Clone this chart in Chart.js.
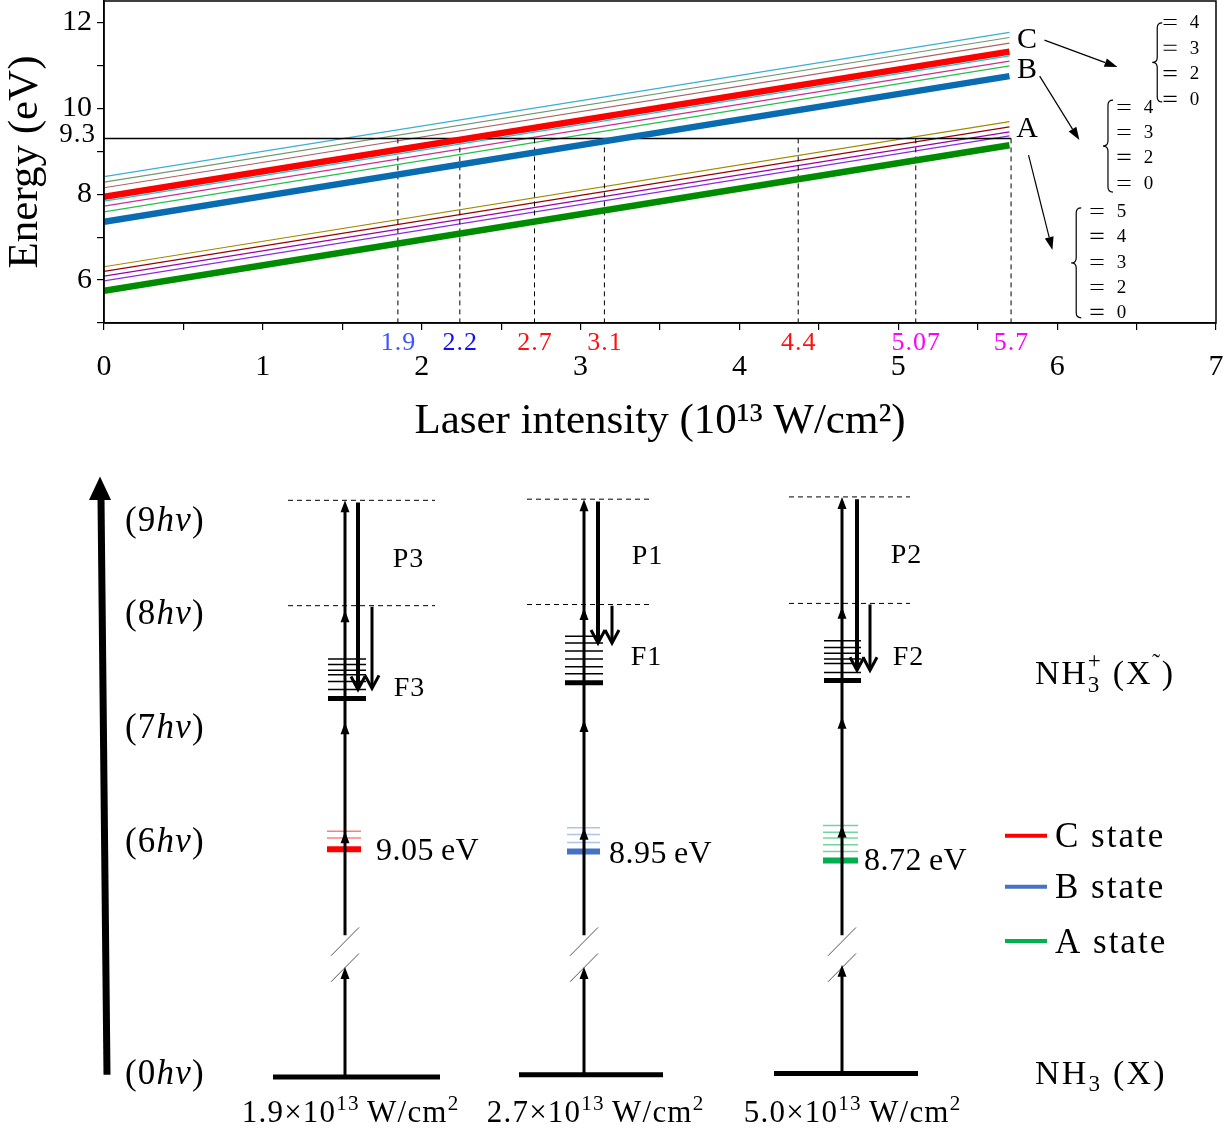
<!DOCTYPE html>
<html><head><meta charset="utf-8">
<script src="https://cdn.jsdelivr.net/npm/chart.js@4.4.1/dist/chart.umd.min.js"></script>
<style>
html,body{margin:0;padding:0;background:#fff;}
#wrapTop{position:absolute;left:0;top:0;width:1225px;height:455px;}
#wrapBot{position:absolute;left:0;top:455px;width:1225px;height:675px;}
</style></head><body>
<div id="wrapTop"><canvas id="top" width="1225" height="455"></canvas></div>
<div id="wrapBot"><canvas id="bot" width="1225" height="675"></canvas></div>
<script>
const FONT = '"Liberation Serif","Times New Roman",serif';

// ================= TOP PANEL DATA =================
const lineIntensity = [0, 5.7];                 // 10^13 W/cm^2, ends of each state line
const vibC = [0, 2, 3, 4];
const energyC_start = [7.94, 8.15, 8.28, 8.41]; // eV at I = 0
const energyC_end   = [11.32, 11.52, 11.65, 11.77]; // eV at I = 5.7
const vibB = [0, 2, 3, 4];
const energyB_start = [7.36, 7.59, 7.72, 7.84];
const energyB_end   = [10.75, 10.99, 11.10, 11.22];
const vibA = [0, 2, 3, 4, 5];
const energyA_start = [5.75, 5.98, 6.09, 6.20, 6.31];
const energyA_end   = [9.14, 9.36, 9.45, 9.57, 9.69];
const thresholdEnergy = 9.3;
const thresholdRange = [0, 5.71];
const crossIntensity = [1.85, 2.24, 2.71, 3.15, 4.37, 5.11, 5.71];
const crossLabels = ['1.9', '2.2', '2.7', '3.1', '4.4', '5.07', '5.7'];
const xTickLabels = [0, 1, 2, 3, 4, 5, 6, 7];
const yTickLabels = [6, 8, 10, 12];
const stateNames = ['C', 'B', 'A'];

// ================= TOP PANEL STYLE =================
const colorsC = ['#ff0000', '#a86464', '#6e9770', '#3aaed6'];
const colorsB = ['#0a6cb0', '#22c04a', '#cc2f8e', '#1fc3d3'];
const colorsA = ['#008c00', '#8a2be2', '#a000a0', '#990000', '#a08a00'];
const crossColors = ['#3a55ff', '#1010f0', '#ff1010', '#ff1010', '#ff1010', '#ff00ff', '#ff00ff'];

function stateDatasets(name, vibs, e0, e1, colors) {
  return vibs.map((v, i) => ({
    label: name + ' v=' + v,
    data: [{x: lineIntensity[0], y: e0[i]}, {x: lineIntensity[1], y: e1[i]}],
    borderColor: colors[i],
    borderWidth: v === 0 ? 6.5 : 1.2,
    order: v === 0 ? 0 : 2,
    pointRadius: 0
  }));
}
const dashData = [];
crossIntensity.forEach(c => { dashData.push({x: c, y: thresholdEnergy}, {x: c, y: 5}, {x: c, y: null}); });

function drawRich(ctx, parts, x, yc, size, align, color, ls) {
  ctx.save();
  ctx.fillStyle = color || '#000';
  ctx.textBaseline = 'alphabetic';
  ctx.textAlign = 'left';
  ctx.letterSpacing = (ls || 0) + 'px';
  const base = yc + size * 0.33;
  const items = parts.map(p => {
    const o = (typeof p === 'string') ? {t: p} : p;
    const s = (o.sup || o.sub || o.ss) ? size * 0.68 : size;
    ctx.font = (o.i ? 'italic ' : '') + s + 'px ' + FONT;
    let w;
    if (o.ss) w = Math.max(ctx.measureText(o.ss[0]).width, ctx.measureText(o.ss[1]).width);
    else w = ctx.measureText(o.t).width;
    return Object.assign({}, o, {s: s, w: w});
  });
  const total = items.reduce((a, b) => a + b.w, 0) - (ls || 0);
  let cx = align === 'center' ? x - total / 2 : (align === 'right' ? x - total : x);
  items.forEach(o => {
    ctx.font = (o.i ? 'italic ' : '') + o.s + 'px ' + FONT;
    if (o.ss) {
      ctx.fillText(o.ss[0], cx, base + size * 0.24);
      ctx.fillText(o.ss[1], cx, base - size * 0.45);
    } else {
      const dy = o.sup ? -size * 0.4 : (o.sub ? size * 0.22 : 0);
      ctx.fillText(o.t, cx, base + dy);
    }
    cx += o.w;
  });
  ctx.restore();
}
function arrowFilled(ctx, x1, y1, x2, y2, head, half, lw) {
  const a = Math.atan2(y2 - y1, x2 - x1);
  const bx = x2 - head * Math.cos(a), by = y2 - head * Math.sin(a);
  ctx.lineWidth = lw;
  ctx.beginPath(); ctx.moveTo(x1, y1); ctx.lineTo(bx, by); ctx.stroke();
  ctx.beginPath(); ctx.moveTo(x2, y2);
  ctx.lineTo(bx + half * Math.sin(a), by - half * Math.cos(a));
  ctx.lineTo(bx - half * Math.sin(a), by + half * Math.cos(a));
  ctx.closePath(); ctx.fill();
}
function brace(ctx, x, y1, y2) {
  const m = (y1 + y2) / 2, w = 5, r = 5;
  ctx.beginPath();
  ctx.moveTo(x + w, y1);
  ctx.quadraticCurveTo(x, y1, x, y1 + r);
  ctx.lineTo(x, m - r);
  ctx.quadraticCurveTo(x, m, x - w, m);
  ctx.quadraticCurveTo(x, m, x, m + r);
  ctx.lineTo(x, y2 - r);
  ctx.quadraticCurveTo(x, y2, x + w, y2);
  ctx.stroke();
}

// annotation layout (data units of the top panel)
const TOP_NOTE = {
  stateLabelX: 5.81, stateLabelY: [11.64, 10.94, 9.57],
  arrows: [[5.92, 11.59, 6.38, 10.96], [5.89, 10.75, 6.14, 9.26], [5.82, 8.91, 5.97, 6.70]],
  braces: [[6.63, 11.99, 10.15], [6.32, 10.19, 8.05], [6.12, 7.68, 5.12]],
  eqX: [6.67, 6.38, 6.21],
  eqY: [[12.01, 11.41, 10.82, 10.22], [10.03, 9.45, 8.87, 8.26], [7.61, 7.03, 6.42, 5.84, 5.26]],
  digitDX: 0.165
};

const topPlugin = {
  id: 'topNotes',
  afterDraw(chart) {
    const {ctx, chartArea: ca, scales: {x, y}} = chart;
    ctx.save();
    ctx.strokeStyle = '#000'; ctx.lineWidth = 1.5;
    ctx.strokeRect(ca.left, ca.top, ca.right - ca.left, ca.bottom - ca.top);
    drawRich(ctx, [String(thresholdEnergy)], ca.left - 9, y.getPixelForValue(thresholdEnergy) - 5, 27, 'right', '#000', 1);
    crossIntensity.forEach((c, i) => drawRich(ctx, [crossLabels[i]], x.getPixelForValue(c), ca.bottom + 18, 26, 'center', crossColors[i], 1));
    stateNames.forEach((n, i) => drawRich(ctx, [n], x.getPixelForValue(TOP_NOTE.stateLabelX), y.getPixelForValue(TOP_NOTE.stateLabelY[i]), 30, 'center'));
    ctx.fillStyle = '#000'; ctx.strokeStyle = '#000';
    TOP_NOTE.arrows.forEach(a => arrowFilled(ctx, x.getPixelForValue(a[0]), y.getPixelForValue(a[1]), x.getPixelForValue(a[2]), y.getPixelForValue(a[3]), 13, 4.5, 1.2));
    ctx.lineWidth = 1.2;
    TOP_NOTE.braces.forEach(b => brace(ctx, x.getPixelForValue(b[0]), y.getPixelForValue(b[1]), y.getPixelForValue(b[2])));
    const vibLists = [vibC.slice().reverse(), vibB.slice().reverse(), vibA.slice().reverse()];
    vibLists.forEach((vl, k) => {
      vl.forEach((v, j) => {
        const py = y.getPixelForValue(TOP_NOTE.eqY[k][j]);
        ctx.save(); ctx.strokeStyle = '#000'; ctx.lineWidth = 1.1;
        const ex = x.getPixelForValue(TOP_NOTE.eqX[k]);
        ctx.beginPath(); ctx.moveTo(ex, py - 2.5); ctx.lineTo(ex + 13, py - 2.5); ctx.moveTo(ex, py + 2.5); ctx.lineTo(ex + 13, py + 2.5); ctx.stroke();
        ctx.restore();
        drawRich(ctx, [String(v)], x.getPixelForValue(TOP_NOTE.eqX[k] + TOP_NOTE.digitDX), py, 19, 'left');
      });
    });
    ctx.restore();
  }
};

new Chart(document.getElementById('top'), {
  type: 'line',
  data: {
    datasets: [
      ...stateDatasets('C', vibC, energyC_start, energyC_end, colorsC),
      ...stateDatasets('B', vibB, energyB_start, energyB_end, colorsB),
      ...stateDatasets('A', vibA, energyA_start, energyA_end, colorsA),
      { label: 'threshold', data: [{x: thresholdRange[0], y: thresholdEnergy}, {x: thresholdRange[1], y: thresholdEnergy}],
        borderColor: '#000', borderWidth: 1.5, order: 1, pointRadius: 0 },
      { label: 'crossings', data: dashData, borderColor: '#000', borderWidth: 1, borderDash: [5, 4], order: 1, pointRadius: 0, spanGaps: false }
    ]
  },
  options: {
    responsive: false, animation: false,
    layout: { padding: { top: 1, right: 9, left: 0, bottom: 0 } },
    plugins: { legend: { display: false }, tooltip: { enabled: false } },
    elements: { point: { radius: 0 }, line: { tension: 0, borderCapStyle: 'butt' } },
    scales: {
      x: {
        type: 'linear', min: 0, max: 7,
        ticks: { stepSize: 0.5, autoSkip: false, maxRotation: 0, padding: 19, color: '#000',
                 font: { family: FONT, size: 30 },
                 callback: v => xTickLabels.includes(v) ? String(v) : '' },
        grid: { drawOnChartArea: false, drawTicks: true, tickLength: 7, color: '#000', lineWidth: 1.2 },
        border: { display: true, color: '#000', width: 1.5 },
        title: { display: true, text: 'Laser intensity (10¹³ W/cm²)', color: '#000',
                 font: { family: FONT, size: 43 }, padding: { top: 0, bottom: 7 } },
        afterFit: s => { s.height = 132; s.paddingLeft = 0; s.paddingRight = 0; }
      },
      y: {
        type: 'linear', min: 5, max: 12.5,
        ticks: { stepSize: 1, includeBounds: false, padding: 5, color: '#000',
                 font: { family: FONT, size: 30 },
                 callback: v => yTickLabels.includes(v) ? String(v) : '' },
        grid: { drawOnChartArea: false, drawTicks: true, tickLength: 7, color: '#000', lineWidth: 1.2 },
        border: { display: true, color: '#000', width: 1.5 },
        title: { display: true, text: 'Energy (eV)', color: '#000',
                 font: { family: FONT, size: 43 }, padding: { top: 0, bottom: 0 } },
        afterFit: s => { s.width = 104; s.paddingTop = 0; s.paddingBottom = 0; }
      }
    }
  },
  plugins: [topPlugin]
});

// ================= BOTTOM PANEL DATA (levels in photon units, axis broken below 6hν) =================
const photonOrders = [9, 8, 7, 6, 0];
const intensityLabels = ['1.9', '2.7', '5.0'];          // ×10^13 W/cm^2
const resonantEnergies = ['9.05', '8.95', '8.72'];      // eV
const resonantStates = ['C', 'B', 'A'];
const pLabels = ['P3', 'P1', 'P2'];
const fLabels = ['F3', 'F1', 'F2'];
const groundLevel = [3.91, 3.93, 3.94];
const resonantThick = [5.92, 5.90, 5.82];
const resonantThin = [[6.08, 6.02], [6.11, 6.05, 5.98], [6.13, 6.07, 6.02, 5.96, 5.90]];
const ionThick = [7.25, 7.39, 7.41];
const ionThin = [[7.60, 7.55, 7.50, 7.46, 7.40, 7.33],
                 [7.80, 7.74, 7.67, 7.60, 7.53, 7.47],
                 [7.76, 7.70, 7.65, 7.60, 7.56, 7.48]];
const virtual9 = [9.00, 9.01, 9.03];
const virtual8 = [8.07, 8.08, 8.09];
const head8 = [8.03, 8.05, 8.06];
const head7 = [7.04, 7.06, 7.09];
const head6 = [6.08, 6.11, 6.13];
const pTip = [7.33, 7.74, 7.50];
const fTip = [7.34, 7.74, 7.50];
const lowerTip = [4.88, 4.88, 4.90];

// ================= BOTTOM PANEL LAYOUT =================
const L = {
  colX: [345, 584, 842],
  groundSpan: [[273, 440], [519, 663], [774, 918]],
  ionSpan: [[328, 366], [565, 603], [824, 861]],
  resSpan: [[327, 361], [567, 600], [823, 858]],
  virtSpan: [[288, 435], [527, 653], [789, 910]],
  pX: [358, 598, 857], fX: [372, 612, 870],
  pLabelX: [408, 647, 906], pLabelY: [8.49, 8.52, 8.53],
  fLabelX: [409, 646, 908], fLabelY: [7.35, 7.63, 7.63],
  resLabelX: [376, 609, 864], resLabelY: [5.92, 5.89, 5.83],
  intLabelX: [350, 595, 852], intLabelY: 3.60,
  breakTop: 5.16, slashes: [[4.98, 5.23], [4.75, 5.00]], slashHalf: 14,
  photonLabelX: 125, photonLabelY: [8.83, 8.01, 7.0, 6.0, 3.95],
  bigArrow: [107, 3.93, 101, 9.02, 9.21],
  rightX: 1035, ionLabelY: 7.48, molLabelY: 3.95,
  legendX: [1005, 1047, 1055], legendY: [6.04, 5.59, 5.11]
};
const resColors = ['#ff0000', '#4472c4', '#00b050'];
const resThinColors = ['rgba(255,0,0,0.5)', 'rgba(68,114,196,0.42)', 'rgba(0,176,80,0.55)'];

function segs(list) {
  const d = [];
  list.forEach(s => { d.push({x: s[0], y: s[1]}, {x: s[2], y: s[3]}, {x: s[2], y: null}); });
  return d;
}
function segDS(label, list, color, width, dash) {
  return { label: label, data: segs(list), showLine: true, borderColor: color, borderWidth: width,
           borderDash: dash || [], pointRadius: 0, spanGaps: false, borderCapStyle: 'butt' };
}
const cols = [0, 1, 2];
const bottomDatasets = [
  segDS('ground NH3 (X)', cols.map(i => [L.groundSpan[i][0], groundLevel[i], L.groundSpan[i][1], groundLevel[i]]), '#000', 5),
  segDS('virtual 9hν', cols.map(i => [L.virtSpan[i][0], virtual9[i], L.virtSpan[i][1], virtual9[i]]), '#000', 1, [5, 4]),
  segDS('virtual 8hν', cols.map(i => [L.virtSpan[i][0], virtual8[i], L.virtSpan[i][1], virtual8[i]]), '#000', 1, [5, 4]),
  segDS('excitation lower', cols.map(i => [L.colX[i], groundLevel[i], L.colX[i], lowerTip[i] - 0.08]), '#000', 3),
  segDS('excitation upper', cols.map(i => [L.colX[i], L.breakTop, L.colX[i], virtual9[i] - 0.08]), '#000', 3),
  segDS('axis break', [].concat(...cols.map(i => L.slashes.map(s => [L.colX[i] - L.slashHalf, s[0], L.colX[i] + L.slashHalf, s[1]]))), '#555', 1),
  segDS('photoelectron P', cols.map(i => [L.pX[i], virtual9[i] - 0.02, L.pX[i], pTip[i] + 0.02]), '#000', 4),
  segDS('photoelectron F', cols.map(i => [L.fX[i], virtual8[i] - 0.01, L.fX[i], fTip[i] + 0.02]), '#000', 3),
  segDS('ion vib levels', [].concat(...cols.map(i => ionThin[i].map(v => [L.ionSpan[i][0], v, L.ionSpan[i][1], v]))), '#000', 1.5),
  segDS('ion ground', cols.map(i => [L.ionSpan[i][0], ionThick[i], L.ionSpan[i][1], ionThick[i]]), '#000', 5),
  ...cols.map(i => segDS(resonantStates[i] + ' vib', resonantThin[i].map(v => [L.resSpan[i][0], v, L.resSpan[i][1], v]), resThinColors[i], 1.5)),
  ...cols.map(i => segDS(resonantStates[i] + ' state', [[L.resSpan[i][0], resonantThick[i], L.resSpan[i][1], resonantThick[i]]], resColors[i], 6)),
  segDS('energy axis', [[L.bigArrow[0], L.bigArrow[1], L.bigArrow[2], L.bigArrow[3]]], '#000', 7)
];

const botPlugin = {
  id: 'botNotes',
  afterDatasetsDraw(chart) {
    const {ctx, scales: {x, y}} = chart;
    const X = v => x.getPixelForValue(v), Y = v => y.getPixelForValue(v);
    ctx.save();
    ctx.fillStyle = '#000'; ctx.strokeStyle = '#000';
    const tri = (cx, tipY, half, len) => { ctx.beginPath(); ctx.moveTo(cx, tipY); ctx.lineTo(cx - half, tipY + len); ctx.lineTo(cx + half, tipY + len); ctx.closePath(); ctx.fill(); };
    cols.forEach(i => {
      const c = X(L.colX[i]);
      [virtual9[i], head8[i], head7[i], head6[i], lowerTip[i]].forEach(v => tri(c, Y(v), 4.5, 12));
      ctx.lineWidth = 3; ctx.lineJoin = 'miter';
      [[L.pX[i], pTip[i]], [L.fX[i], fTip[i]]].forEach(a => {
        const ax = X(a[0]), ay = Y(a[1]);
        ctx.beginPath(); ctx.moveTo(ax - 7, ay - 13); ctx.lineTo(ax, ay); ctx.lineTo(ax + 7, ay - 13); ctx.stroke();
      });
      drawRich(ctx, [pLabels[i]], X(L.pLabelX[i]), Y(L.pLabelY[i]), 28, 'center', '#000', 1);
      drawRich(ctx, [fLabels[i]], X(L.fLabelX[i]), Y(L.fLabelY[i]), 28, 'center', '#000', 1);
      drawRich(ctx, [resonantEnergies[i] + '\u2009eV'], X(L.resLabelX[i]), Y(L.resLabelY[i]), 32, 'left', '#000', 0.5);
      drawRich(ctx, [intensityLabels[i] + '×10', {t: '13', sup: true}, '\u2009W/cm', {t: '2', sup: true}], X(L.intLabelX[i]), Y(L.intLabelY), 31, 'center', '#000', 1.2);
    });
    tri(X(L.bigArrow[2]) - 1, Y(L.bigArrow[4]), 11, Y(L.bigArrow[3]) - Y(L.bigArrow[4]) + 2);
    photonOrders.forEach((n, k) => drawRich(ctx, ['(' + n, {t: 'hν', i: true}, ')'], X(L.photonLabelX), Y(L.photonLabelY[k]), 35, 'left', '#000', 1.2));
    drawRich(ctx, ['NH', {ss: ['3', '+']}, ' (X', {t: '˜', sup: true}, ')'], X(L.rightX), Y(L.ionLabelY), 34, 'left', '#000', 1.8);
    drawRich(ctx, ['NH', {t: '3', sub: true}, ' (X)'], X(L.rightX), Y(L.molLabelY), 34, 'left', '#000', 2.2);
    resonantStates.forEach((s, i) => {
      ctx.strokeStyle = resColors[i]; ctx.lineWidth = 4;
      ctx.beginPath(); ctx.moveTo(X(L.legendX[0]), Y(L.legendY[i])); ctx.lineTo(X(L.legendX[1]), Y(L.legendY[i])); ctx.stroke();
      drawRich(ctx, [s + ' state'], X(L.legendX[2]), Y(L.legendY[i]), 35, 'left', '#000', 2);
    });
    ctx.restore();
  }
};

new Chart(document.getElementById('bot'), {
  type: 'scatter',
  data: { datasets: bottomDatasets },
  options: {
    responsive: false, animation: false,
    layout: { padding: 0 },
    plugins: { legend: { display: false }, tooltip: { enabled: false } },
    elements: { point: { radius: 0 }, line: { tension: 0 } },
    scales: {
      x: { type: 'linear', min: 0, max: 1225, display: false },
      y: { type: 'linear', min: 3.442, max: 9.400, display: false }
    }
  },
  plugins: [botPlugin]
});
</script></body></html>
